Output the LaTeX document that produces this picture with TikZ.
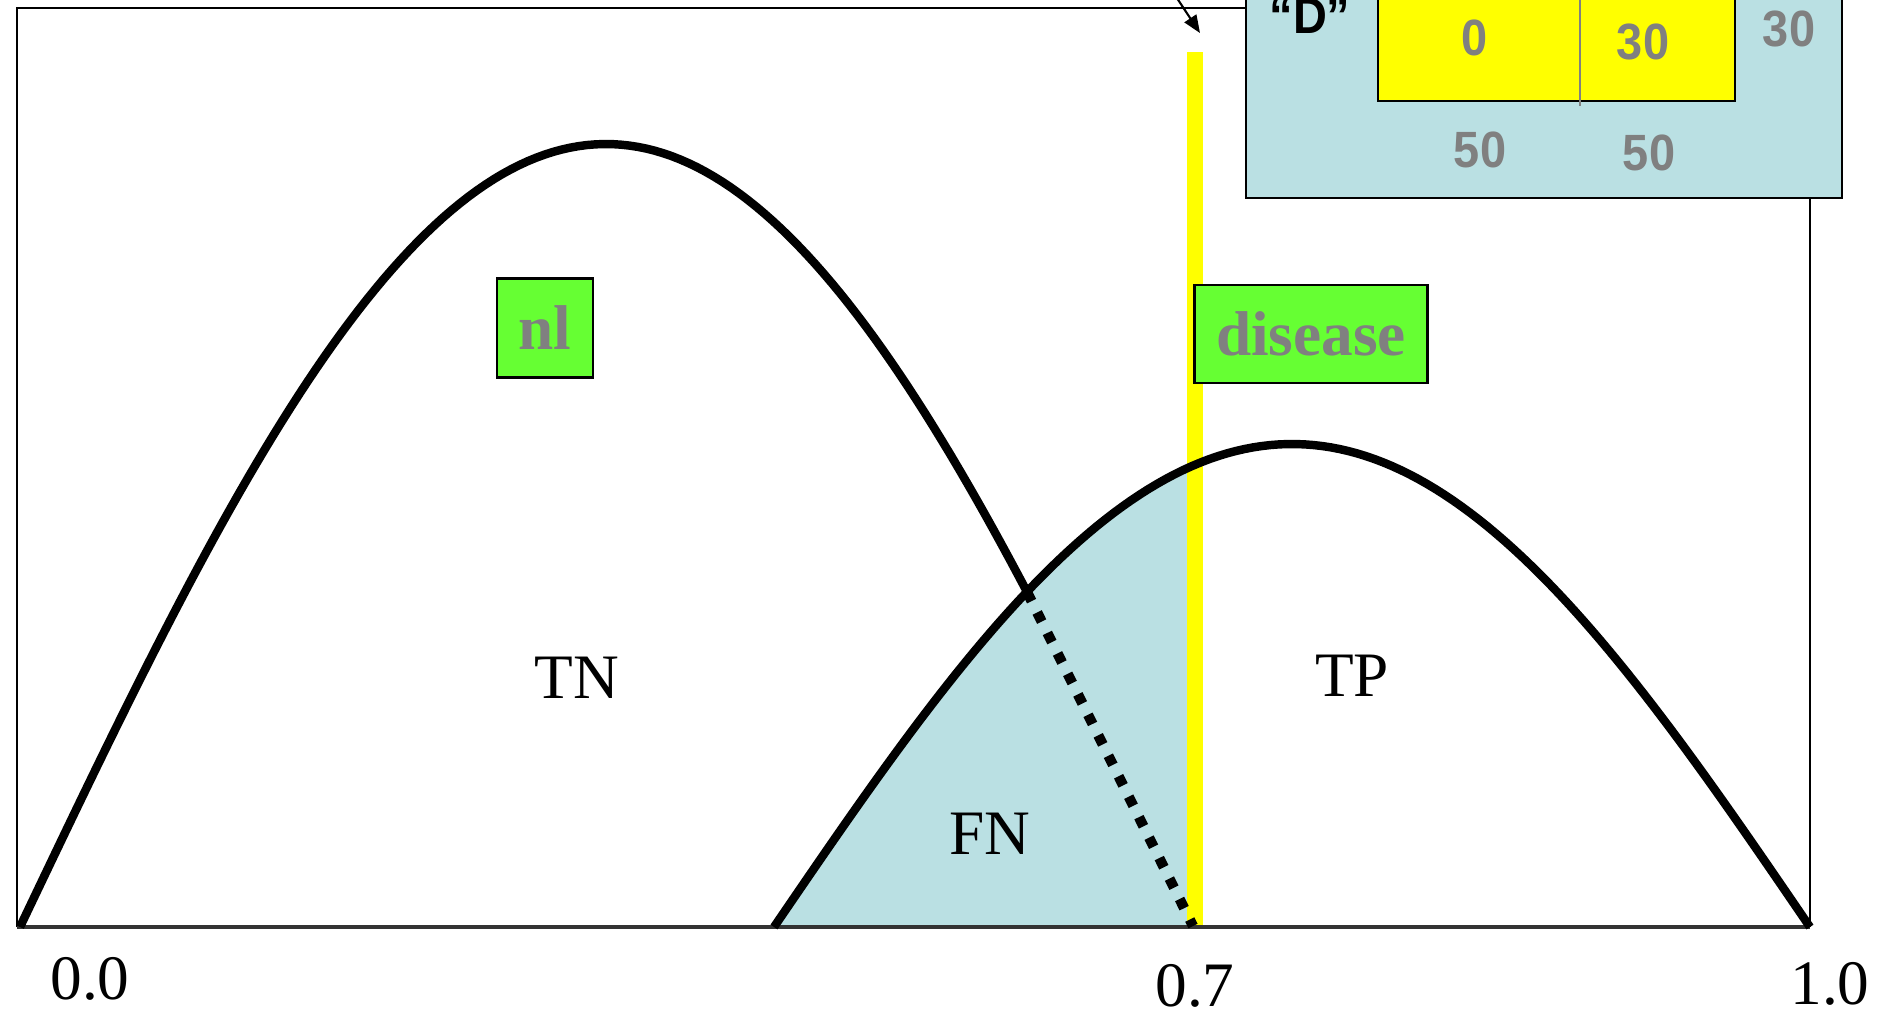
\documentclass[tikz,border=0pt]{standalone}
\usepackage{fontspec}
\setmainfont{Liberation Serif}
\newfontfamily\arialfont{Liberation Sans}
\usepackage{graphicx}
\usetikzlibrary{arrows.meta,positioning}
\definecolor{fnblue}{RGB}{186,224,227}
\definecolor{tagGreen}{RGB}{102,255,51}
\definecolor{barYellow}{RGB}{255,255,0}
\newcommand{\narrowtxt}[1]{\scalebox{0.92}[1]{#1}}

\begin{document}
\begin{tikzpicture}[
    x=0.01cm, y=-0.01cm,
    curve/.style={line width=2.4pt, line join=round},
    dotcurve/.style={line width=2.9pt, dash pattern=on 2.9pt off 3.6pt},
    regionlbl/.style={font=\fontsize{18}{20}\selectfont, inner sep=0pt},
    tagbox/.style={draw, line width=0.8pt, fill=tagGreen, text=gray, inner sep=0pt,
                   font=\fontsize{18}{20}\selectfont\bfseries},
    cellnum/.style={font=\arialfont\bfseries\fontsize{14.5}{17}\selectfont, text=gray,
                    inner sep=0pt, anchor=base},
]
\useasboundingbox (0,0) rectangle (1881,1021);
\clip (0,0) rectangle (1881,1021);

% FN area under the disease curve, left of the cutoff
\fill[fnblue] plot[domain=774:1195, samples=80] (\x,{927-483*sin(0.173745*(\x-774))}) -- (1195,927) -- cycle;
% cutoff bar
\fill[barYellow] (1187,52) rectangle (1203,927);

% frame
\draw[line width=0.7pt] (17,927) -- (17,8) -- (1810,8) -- (1810,927);
\draw[line width=1pt, black!80] (17,927) -- (1810,927);

% nl curve, solid then dotted past the crossing
\draw[curve] plot[domain=20:1027, samples=120] (\x,{927-783*sin(0.153584*(\x-20))});
\coordinate (cross) at (1027,592);
\coordinate (cutbase) at (1193,926);
\draw[dotcurve] (cross) -- (cutbase);
% disease curve
\draw[curve] plot[domain=774:1810, samples=120] (\x,{927-483*sin(0.173745*(\x-774))});

\node[regionlbl] (tn) at (577,678) {TN};
\node[regionlbl] (tp) at (1352,676) {TP};
\node[regionlbl] (fn) at (990,834) {FN};
\node[regionlbl] (x0) at (90,979) {0.0};
\node[regionlbl] (x7) at (1195,986) {0.7};
\node[regionlbl] (x1) at (1830,984) {1.0};

\node[tagbox, minimum width=0.96cm, minimum height=0.99cm] (nl) at (545,328) {nl};
\node[tagbox, minimum width=2.33cm, minimum height=0.98cm] (disease) at (1311,334) {disease};

% inset table
\draw[fill=fnblue, line width=0.8pt] (1246,-20) rectangle (1842,198);
\draw[fill=barYellow, line width=0.8pt] (1378,-20) rectangle (1735,101);
\draw[gray, line width=0.5pt] (1580,-20) -- (1580,106);
\node[cellnum, text=black] (dlabel) at (1310,33) {\narrowtxt{“D”}};
\node[cellnum] (c00) at (1475,55) {\narrowtxt{0}};
\node[cellnum] (c01) at (1643,60) {\narrowtxt{30}};
\node[cellnum] (rsum) at (1789,47) {\narrowtxt{30}};
\node[cellnum] (csum0) at (1480,167) {\narrowtxt{50}};
\node[cellnum] (csum1) at (1649,170) {\narrowtxt{50}};

\coordinate (arrtail) at (1165,-20);
\coordinate (arrhead) at (1200,33);
\draw[-{Triangle[length=5pt,width=4pt]}, line width=0.6pt] (arrtail) -- (arrhead);
\end{tikzpicture}
\end{document}
